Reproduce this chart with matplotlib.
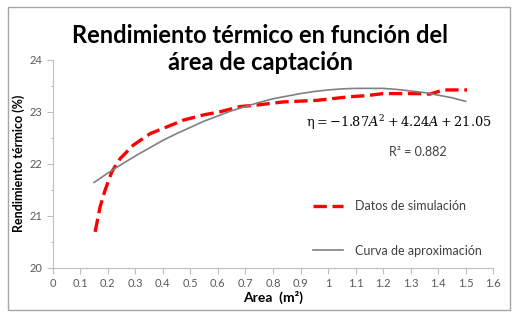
import matplotlib.pyplot as plt
from matplotlib.patches import Rectangle

# simulation data
area_sim = [0.154, 0.172, 0.19, 0.215, 0.245, 0.293, 0.354, 0.415, 0.475, 0.548,
            0.608, 0.68, 0.742, 0.839, 0.96, 1.08, 1.14, 1.20, 1.32, 1.37, 1.42, 1.505]
eta_sim = [20.69, 21.17, 21.49, 21.85, 22.10, 22.36, 22.58, 22.71, 22.84, 22.94,
           23.00, 23.10, 23.13, 23.19, 23.22, 23.29, 23.31, 23.35, 23.35, 23.34, 23.42, 23.42]

# approximation curve
area_fit = [0.15, 0.2, 0.25, 0.3, 0.35, 0.4, 0.45, 0.5, 0.55, 0.6, 0.65, 0.7, 0.75,
            0.8, 0.85, 0.9, 0.95, 1.0, 1.05, 1.1, 1.15, 1.2, 1.25, 1.3, 1.35, 1.4, 1.45, 1.5]
eta_fit = [21.64, 21.82, 21.99, 22.15, 22.30, 22.45, 22.58, 22.70, 22.82, 22.92, 23.02, 23.10, 23.18,
           23.25, 23.30, 23.35, 23.39, 23.42, 23.44, 23.45, 23.45, 23.45, 23.43, 23.40, 23.37, 23.32, 23.27, 23.20]

xticks = [0, 0.1, 0.2, 0.3, 0.4, 0.5, 0.6, 0.7, 0.8, 0.9, 1, 1.1, 1.2, 1.3, 1.4, 1.5, 1.6]
yticks = [20, 21, 22, 23, 24]

plt.rcParams['font.family'] = ['Lato', 'DejaVu Sans']
plt.rcParams['mathtext.fontset'] = 'dejavuserif'

fig = plt.figure(figsize=(5.17, 3.18), dpi=100)
fig.patches.append(Rectangle((8 / 517, 1 - 310 / 318), 502 / 517, 303 / 318,
                             transform=fig.transFigure, fill=False,
                             edgecolor='#a6a6a6', lw=1.0))

ax = fig.add_axes([0.102, 0.158, 0.852, 0.654])
ax.plot(area_sim, eta_sim, color='#ff0000', lw=2.4, dashes=(4, 1.7),
        label='Datos de simulación')
ax.plot(area_fit, eta_fit, color='#808080', lw=1.2, label='Curva de aproximación')

ax.set_xlim(0, 1.6)
ax.set_ylim(20, 24)
ax.set_xticks(xticks)
ax.set_xticklabels([('%g' % t) for t in xticks])
ax.set_yticks(yticks)
ax.set_yticks([20.5, 21.5, 22.5, 23.5], minor=True)
for s in ['top', 'right']:
    ax.spines[s].set_visible(False)
for s in ['left', 'bottom']:
    ax.spines[s].set_color('#bfbfbf')
ax.tick_params(which='major', colors='#bfbfbf', labelcolor='#595959', labelsize=8, length=4)
ax.tick_params(which='minor', colors='#bfbfbf', length=2)

ax.set_xlabel('Area  (m²)', fontsize=10, fontweight='bold', labelpad=1)
ax.set_ylabel('Rendimiento térmico (%)', fontsize=9, fontweight='bold', labelpad=3)

fig.text(0.503, 0.846, 'Rendimiento térmico en función del\nárea de captación',
         ha='center', va='center', fontsize=17, fontweight='bold', linespacing=1.22)

ax.text(0.785, 0.70, r'$\mathrm{\eta} = -1.87A^2 + 4.24A + 21.05$', transform=ax.transAxes,
        ha='center', va='center', fontsize=9.3)
ax.text(0.828, 0.556, 'R² = 0.882', transform=ax.transAxes,
        ha='center', va='center', fontsize=9, color='#404040')

ax.legend(loc='lower right', bbox_to_anchor=(1.0, 0.0), frameon=False,
          fontsize=9, handlelength=2.4, labelspacing=2.6, handletextpad=1.0,
          labelcolor='#404040')

fig.savefig('out.png', dpi=100)
